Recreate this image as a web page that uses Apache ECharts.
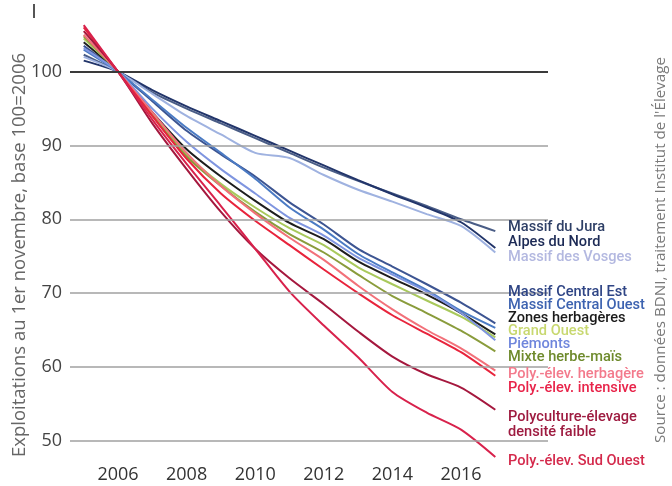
<!DOCTYPE html>
<html><head><meta charset="utf-8">
<script src="https://cdn.jsdelivr.net/npm/echarts@6/dist/echarts.min.js"></script>
<style>html,body{margin:0;padding:0;background:#fff}#c{width:672px;height:486px}</style>
</head><body><div id="c"></div>
<script>
// ---- data ----
const years = [2005,2006,2007,2008,2009,2010,2011,2012,2013,2014,2015,2016,2017];
const xTickLabels = [2006,2008,2010,2012,2014,2016];
const yTickLabels = [50,60,70,80,90,100];

const massifJura        = [102.3,100,97.2,95.0,93.0,91.0,89.0,87.0,85.2,83.5,81.8,80.0,78.4];
const alpesNord         = [101.5,100,97.5,95.3,93.3,91.3,89.3,87.3,85.3,83.4,81.6,79.6,76.1];
const massifVosges      = [102.0,100,97.0,94.0,91.5,89.0,88.3,86.0,84.0,82.4,80.7,79.1,75.5];
const massifCentralEst  = [103.5,100,96.0,92.0,88.8,85.8,82.3,79.3,76.0,73.6,71.2,68.7,65.9];
const massifCentralOuest= [103.0,100,96.2,92.4,89.0,85.5,81.6,78.6,75.3,72.8,70.4,67.6,65.3];
const zonesHerbageres   = [104.0,100,94.5,89.5,85.8,82.5,79.5,77.3,74.3,72.0,69.8,67.3,64.4];
const grandOuest        = [104.5,100,94.2,88.8,84.8,81.6,78.8,76.5,73.5,71.2,69.0,66.8,64.0];
const piemonts          = [103.2,100,95.0,90.5,86.8,83.5,80.2,77.8,74.8,72.5,70.2,67.3,63.6];
const mixteHerbeMais    = [104.8,100,94.0,88.5,84.5,81.0,78.0,75.5,72.5,69.6,67.3,64.9,62.1];
const polyHerbagere     = [105.0,100,94.5,89.0,84.5,80.8,77.5,74.5,71.0,67.8,65.0,62.5,59.5];
const polyIntensive     = [106.0,100,94.0,88.2,83.5,79.8,76.5,73.2,70.0,67.0,64.5,62.0,58.8];
const polyDensiteFaible = [105.5,100,93.0,86.8,81.0,76.0,72.0,68.5,64.8,61.4,59.0,57.2,54.2];
const polySudOuest      = [106.3,100,93.5,87.5,81.8,76.0,70.2,65.6,61.3,56.6,53.8,51.5,47.8];

const seriesNames = ['Massif du Jura','Alpes du Nord','Massif des Vosges','Massif Central Est',
  'Massif Central Ouest','Zones herbagères','Grand Ouest','Piémonts','Mixte herbe-maïs',
  'Poly.-élev. herbagère','Poly.-élev. intensive','Polyculture-élevage\ndensité faible','Poly.-élev. Sud Ouest'];
const seriesValues = [massifJura,alpesNord,massifVosges,massifCentralEst,massifCentralOuest,
  zonesHerbageres,grandOuest,piemonts,mixteHerbeMais,polyHerbagere,polyIntensive,polyDensiteFaible,polySudOuest];

// ---- styles / layout ----
const lineColors = ['#4a5d86','#22356a','#9fb2e0','#3d5592','#4b7bc4','#1e1e1e','#a9c95c','#7f95e0',
  '#8a9c3c','#f2717a','#e8243c','#a5183e','#d8224c'];
const labelColors = ['#2e3f66','#1c2a55','#b3b8e0','#2f4585','#3d63b0','#1a1a1a','#c8d870','#6f86dc',
  '#6e8a2c','#f37a8c','#e8244a','#9e1b40','#d42a4c'];
const labelY = [227,242,257,292,305,318,331,344,357,374,388,425,461];
const labelX = 508;

const chart = echarts.init(document.getElementById('c'), null, {renderer:'canvas'});

const series = seriesValues.map((vals,i)=>({
  name: seriesNames[i], type:'line', symbol:'none', smooth:0.25, z:3,
  data: years.map((y,k)=>[y, vals[k]]),
  lineStyle:{color:lineColors[i], width:2}, itemStyle:{color:lineColors[i]}
}));
// grid lines (drawn through the axes)
series.unshift({
  type:'line', data:[], symbol:'none', silent:true, z:1,
  markLine:{silent:true, symbol:['none','none'], label:{show:false},
    data: yTickLabels.map(v=>({yAxis:v, lineStyle:{type:'solid',
      color: v===100 ? '#3a3a3a' : '#a0a0a0', width: v===100 ? 2.2 : 1.6}}))}
});

const graphic = seriesNames.map((n,i)=>({
  type:'text', x:labelX, y:labelY[i], z:10,
  style:{text:n, fill:labelColors[i], font:'500 14.6px Roboto', verticalAlign:'middle', lineHeight:15}
}));
graphic.push({type:'text', x:20, y:255, rotation:Math.PI/2,
  style:{text:'Exploitations au 1er novembre, base 100=2006', fill:'#666', font:'18.5px "Open Sans"',
    align:'center', verticalAlign:'middle'}});
graphic.push({type:'text', x:661, y:250, rotation:Math.PI/2,
  style:{text:"Source : données BDNI, traitement Institut de l'Élevage", fill:'#7a7a7a', font:'15.2px "Open Sans"',
    align:'center', verticalAlign:'middle'}});
graphic.push({type:'rect', shape:{x:33, y:4, width:2, height:14}, style:{fill:'#555'}});

chart.setOption({
  animation:false,
  backgroundColor:'#fff',
  grid:{left:70, right:124, top:12.66, bottom:23.16},
  xAxis:{type:'value', min:2004.6, max:2018.536,
    axisLine:{show:false}, axisTick:{show:false}, splitLine:{show:false},
    axisLabel:{customValues:xTickLabels, margin:3, color:'#333', fontSize:18, fontFamily:'Open Sans',
      formatter:v=>String(v)}},
  yAxis:{type:'value', min:47, max:108,
    axisLine:{show:false}, axisTick:{show:false}, splitLine:{show:false},
    axisLabel:{customValues:yTickLabels, margin:8, color:'#444', fontSize:18, fontFamily:'Open Sans'}},
  series: series,
  graphic: graphic
});
</script></body></html>
